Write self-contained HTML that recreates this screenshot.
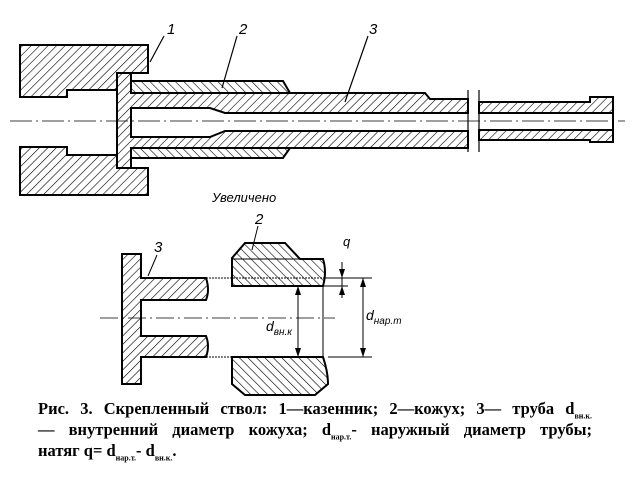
<!DOCTYPE html>
<html><head><meta charset="utf-8"><style>
html,body{margin:0;padding:0;background:#fff;width:632px;height:482px;overflow:hidden}
.cap{position:absolute;left:38px;width:554px;font-family:"Liberation Serif",serif;font-weight:bold;font-size:16.5px;line-height:21px;color:#000;top:398px}
.cap div{text-align:justify;text-align-last:justify;white-space:nowrap;height:21px}
.cap div.l{text-align-last:left}
.cap sub{font-size:8px;line-height:0}
</style></head><body>
<svg width="632" height="482" style="position:absolute;left:0;top:0" xmlns="http://www.w3.org/2000/svg">
<defs>
<pattern id="h" width="6" height="6" patternUnits="userSpaceOnUse" patternTransform="rotate(45)"><line x1="0" y1="0" x2="0" y2="6" stroke="#000" stroke-width="1.2"/></pattern>
<pattern id="h2" width="6" height="6" patternUnits="userSpaceOnUse" patternTransform="rotate(-45)"><line x1="0" y1="0" x2="0" y2="6" stroke="#000" stroke-width="1.2"/></pattern>
</defs>
<g stroke="#000" stroke-width="2" fill="url(#h)">
<path d="M20 45 H148 V73 H117 V90 H67 V97 H20 Z"/>
<path d="M20 147 H67 V155 H117 V168 H148 V195 H20 Z"/>
<path d="M131 81 H283 L290 93 H131 Z" fill="url(#h2)"/>
<path d="M131 148 H290 L283 158 H131 Z" fill="url(#h2)"/>
<path d="M117 73 H131 V93 H425 L430 99 H468 V113 H225 L210 108 H131 V137 H210 L225 131 H468 V148 H430 L425 148 H131 V168 H117 Z"/>
<path d="M479 102 H590 V97 H613 V142 H590 V140 H479 V130 H613 V113 H479 Z"/>
</g>
<g stroke="#000" stroke-width="1.2" fill="none">
<line x1="468" y1="90" x2="468" y2="152"/><line x1="479" y1="90" x2="479" y2="152"/>
<line x1="10" y1="121" x2="625" y2="121" stroke-dasharray="22,4,2,4" stroke-width="0.8"/>
<line x1="164" y1="36" x2="150" y2="62"/>
<line x1="237" y1="36" x2="222" y2="88"/>
<line x1="368" y1="36" x2="345" y2="102"/>
</g>
<g font-family="Liberation Sans,sans-serif" font-style="italic" font-size="15" fill="#000">
<text x="167" y="34">1</text><text x="239" y="34">2</text><text x="369" y="34">3</text>
<text x="212" y="202" font-size="13">Увеличено</text>
<text x="255" y="224">2</text><text x="154" y="252">3</text>
<text x="343" y="246" font-size="13">q</text>
<text x="266" y="331" font-size="14">d<tspan font-size="10" dy="4">вн.к</tspan></text>
<text x="366" y="320" font-size="14">d<tspan font-size="10" dy="4">нар.т</tspan></text>
</g>
<g stroke="#000" stroke-width="2" fill="url(#h)">
<path d="M122 254 H141 V278 H206 Q210 290 206 300 H141 V336 H206 Q210 346 206 357 H141 V384 H122 Z"/>
<path d="M232 258 L245 243 H285 L300 259 H323 Q327 272 323 286 H232 Z" fill="url(#h2)"/>
<path d="M232 357 H323 Q328 372 328 384 L315 395 H245 L232 384 Z" fill="url(#h2)"/>
</g>
<g stroke="#000" stroke-width="1" fill="none">
<line x1="232" y1="259" x2="323" y2="259"/>
<line x1="206" y1="278" x2="323" y2="278" stroke-dasharray="2,1"/>
<line x1="206" y1="357" x2="232" y2="357" stroke-dasharray="2,1"/>
<line x1="323" y1="278" x2="372" y2="278"/><line x1="323" y1="286" x2="348" y2="286"/><line x1="328" y1="357" x2="372" y2="357"/>
<line x1="323" y1="286" x2="323" y2="357"/>
<line x1="298" y1="286" x2="298" y2="357"/>
<line x1="363" y1="278" x2="363" y2="357"/>
<line x1="342" y1="262" x2="342" y2="298"/>
<line x1="100" y1="318" x2="335" y2="318" stroke-dasharray="18,4,2,4" stroke-width="0.8"/>
<line x1="258" y1="226" x2="252" y2="250"/>
<line x1="157" y1="255" x2="148" y2="276"/>
</g>
<g fill="#000">
<path d="M298 286 l-3 9 h6 Z"/><path d="M298 357 l-3 -9 h6 Z"/>
<path d="M363 278 l-3 9 h6 Z"/><path d="M363 357 l-3 -9 h6 Z"/>
<path d="M342 278 l-3 -9 h6 Z"/><path d="M342 286 l-3 9 h6 Z"/>
</g>
</svg>
<div class="cap">
<div>Рис. 3. Скрепленный ствол: 1—казенник; 2—кожух; 3— труба d<sub>вн.к.</sub></div>
<div>— внутренний диаметр кожуха; d<sub>нар.т.</sub>- наружный диаметр трубы;</div>
<div class="l">натяг q= d<sub>нар.т.</sub>- d<sub>вн.к.</sub>.</div>
</div>
</body></html>
